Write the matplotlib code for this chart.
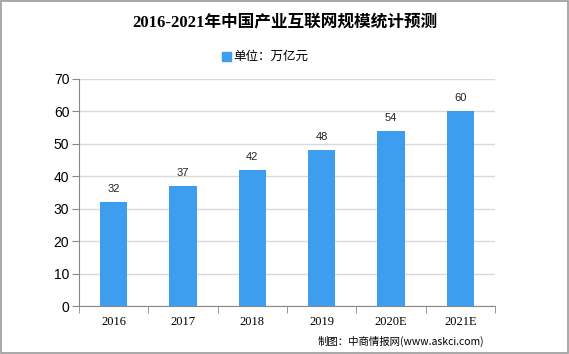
import matplotlib
matplotlib.use("Agg")
import matplotlib.pyplot as plt
from matplotlib.patches import Rectangle

categories = ["2016", "2017", "2018", "2019", "2020E", "2021E"]
values = [32, 37, 42, 48, 54, 60]
yticks = [0, 10, 20, 30, 40, 50, 60, 70]

plt.rcParams['font.family'] = ['Noto Sans CJK SC', 'DejaVu Sans']
bar_color = "#3d9ef0"

fig = plt.figure(figsize=(5.69, 3.54), dpi=100)
ax = fig.add_axes([79/569, 1-306/354, (495-79)/569, (306-79)/354])

x = list(range(len(categories)))
bars = ax.bar(x, values, width=0.39, color=bar_color, zorder=3)
for xi, v in zip(x, values):
    ax.text(xi, v + 2.5, str(v), ha="center", va="bottom", fontsize=8,
            family=["Liberation Sans", "DejaVu Sans"], color="#222222")

ax.set_xlim(-0.5, len(categories) - 0.5)
ax.set_ylim(0, 70)
ax.set_yticks(yticks)
ax.set_yticklabels([str(t) for t in yticks], fontsize=10,
                   family=["Liberation Sans", "DejaVu Sans"])
ax.yaxis.grid(True, color="#d9d9d9", linewidth=1, zorder=0)
ax.set_axisbelow(True)

ax.set_xticks(x)
ax.set_xticklabels(categories, fontsize=9, family=["Liberation Serif", "DejaVu Serif"])
ax.set_xticks([i + 0.5 for i in range(-1, len(categories))], minor=True)
ax.tick_params(axis="x", which="major", length=0, pad=7)
ax.tick_params(axis="x", which="minor", length=5, color="#888888")
ax.tick_params(axis="y", length=5, color="#888888", pad=2)

for s in ["top", "right"]:
    ax.spines[s].set_visible(False)
for s in ["left", "bottom"]:
    ax.spines[s].set_color("#888888")

fig.text(0.5, 1-23/354, "2016-2021年中国产业互联网规模统计预测", ha="center", va="center",
         fontsize=12, fontweight="bold", family=["Liberation Serif", "Noto Sans CJK SC"])

# legend
fig.patches.append(Rectangle((222/569, 1-61/354), 9/569, 9/354, transform=fig.transFigure,
                             color=bar_color))
fig.text(233/569, 1-56/354, "单位：万亿元", ha="left", va="center", fontsize=9)

fig.text(484/569, 1-341/354, "制图：中商情报网(www.askci.com)", ha="right", va="center",
         fontsize=7.5)

# border
fig.patches.append(Rectangle((0.001, 0.002), 0.997, 0.996, transform=fig.transFigure,
                             fill=False, edgecolor="#999999", linewidth=1.2))

fig.savefig("out.png", dpi=100)
